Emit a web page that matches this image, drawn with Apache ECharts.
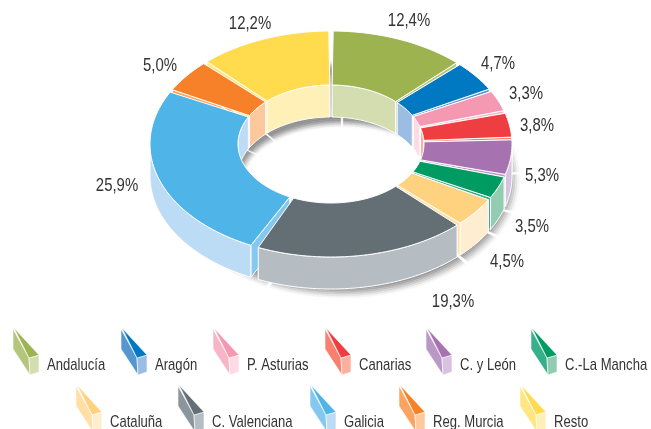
<!DOCTYPE html>
<html>
<head>
<meta charset="utf-8">
<style>html,body{margin:0;padding:0;background:#fff;overflow:hidden}#c{width:651px;height:429px}</style>
<script src="https://cdn.jsdelivr.net/npm/echarts@6/dist/echarts.min.js"></script>
</head>
<body>
<div id="c"></div>
<script>
// ---- data ----
const categories = ['Andalucía','Aragón','P. Asturias','Canarias','C. y León','C.-La Mancha','Cataluña','C. Valenciana','Galicia','Reg. Murcia','Resto'];
const values = [12.4,4.7,3.3,3.8,5.3,3.5,4.5,19.3,25.9,5.0,12.2];
const valueLabels = ['12,4%','4,7%','3,3%','3,8%','5,3%','3,5%','4,5%','19,3%','25,9%','5,0%','12,2%'];

// ---- styles ----
const topColors  = ['#9db34f','#0079c2','#f598b2','#ef3e42','#a673b0','#009b62','#ffd280','#636e75','#4fb4e8','#f68128','#ffdb4d'];
const midColors  = ['#b5c67c','#5396d0','#f9b5c8','#f97f6e','#bb97c6','#35b08a','#ffdfa4','#8a959c','#85c8ef','#fba35f','#ffe680'];
const wallColors = ['#d3ddb0','#9bbce3','#fcdbe4','#fdb0a0','#d6c3e0','#92cdb2','#ffedd0','#b5bdc3','#bcdcf5','#fdc89c','#fff0b8'];

// ---- layout ----
const G = {cx:331, cy:144, rx:181, ry:113, irx:93, iry:59, depth:32, pad:0.7};
const FLOOR = {cx:342, cy:179, rx:180, ry:121, irx:95, iry:51, pad:0.7};
const startPad = {8:1.6};   // the Galicia slice stands a little further from C. Valenciana
const endPad = {7:1.0};
const labelXY = [[409,21],[498,64],[526,94],[537,126],[542,176],[532,227],[507,262],[453,302],[117,186],[160,66],[250,24]];
const legendXY = [[13,328],[121,328],[213,328],[325,328],[426,328],[531,328],[76,385],[178,385],[310,385],[399,385],[520,385]];
const LABEL_FONT = '18px "Liberation Sans",Arial,sans-serif', LABEL_SCALE = 0.83;
const LEGEND_FONT = '17px "Liberation Sans",Arial,sans-serif', LEGEND_SCALE = 0.77;
const TEXT = '#333333';

const total = values.reduce((a,b)=>a+b,0);
const rows = values.map((v,i)=>[v,i]);
function span(i){
  let s=0; for(let k=0;k<i;k++) s+=values[k];
  return [s/total*360, (s+values[i])/total*360];
}
function padded(i){
  const [a,b]=span(i);
  return [a+(startPad[i]||G.pad), b-(endPad[i]||G.pad)];
}
const rad = d=>d*Math.PI/180;
function pt(cx,cy,rx,ry,a){return [cx+rx*Math.sin(rad(a)), cy-ry*Math.cos(rad(a))];}
function arc(cx,cy,rx,ry,a0,a1){
  const n=Math.max(2,Math.ceil(Math.abs(a1-a0)/1.5)), out=[];
  for(let i=0;i<=n;i++) out.push(pt(cx,cy,rx,ry,a0+(a1-a0)*i/n));
  return out;
}
function poly(points,fill,stroke,lw){
  return {type:'polygon',shape:{points},style:{fill,stroke:stroke||null,lineWidth:lw||0}};
}
function wallBand(rx,ry,a0,a1,fill){
  const top=arc(G.cx,G.cy,rx,ry,a0,a1);
  const bot=top.map(p=>[p[0],p[1]+G.depth]).reverse();
  return poly(top.concat(bot),fill,'#fff',1);
}
function overlap(a0,a1,l,h){const s=Math.max(a0,l),e=Math.min(a1,h);return e>s?[s,e]:null;}
function smooth(t){t=Math.max(0,Math.min(1,t));return t*t*(3-2*t);}
function shade(s){ // floor shadow tone across the ring
  const t=s<0.5? smooth(s/0.14) : smooth((1-s)/0.2);
  const c=Math.round(255-t*112);
  return 'rgb('+c+','+c+','+c+')';
}

function floorItem(p,api){
  const i=api.value(1),[a,b]=span(i),a0=a+FLOOR.pad,a1=b-FLOOR.pad,children=[],N=40;
  for(let k=0;k<N;k++){
    const s0=k/N,s1=(k+1)/N;
    const r=(s)=>[FLOOR.irx+(FLOOR.rx-FLOOR.irx)*s,FLOOR.iry+(FLOOR.ry-FLOOR.iry)*s];
    const [x0,y0]=r(s0),[x1,y1]=r(s1);
    const pts=arc(FLOOR.cx,FLOOR.cy,x1,y1,a0,a1).concat(arc(FLOOR.cx,FLOOR.cy,x0,y0,a1,a0));
    const col=shade((s0+s1)/2);
    children.push(poly(pts,col,col,0.4));
  }
  return {type:'group',children};
}
function radialItem(p,api){
  const i=api.value(1),children=[];
  padded(i).forEach(t=>{
    const o=pt(G.cx,G.cy,G.rx,G.ry,t), n=pt(G.cx,G.cy,G.irx,G.iry,t);
    children.push(poly([o,n,[n[0],n[1]+G.depth],[o[0],o[1]+G.depth]],midColors[i],'#fff',1));
  });
  return {type:'group',children};
}
function innerItem(p,api){
  const i=api.value(1),[a0,a1]=padded(i),children=[];
  [[0,90],[270,360]].forEach(r=>{
    const o=overlap(a0,a1,r[0],r[1]);
    if(o) children.push(wallBand(G.irx,G.iry,o[0],o[1],wallColors[i]));
  });
  return {type:'group',children};
}
function outerItem(p,api){
  const i=api.value(1),[a0,a1]=padded(i),o=overlap(a0,a1,90,270);
  return {type:'group',children:o?[wallBand(G.rx,G.ry,o[0],o[1],wallColors[i])]:[]};
}
function topItem(p,api){
  const i=api.value(1),[a0,a1]=padded(i);
  const pts=arc(G.cx,G.cy,G.rx,G.ry,a0,a1).concat(arc(G.cx,G.cy,G.irx,G.iry,a1,a0));
  return poly(pts,topColors[i],'#fff',1);
}
function labelItem(p,api){
  const i=api.value(1);
  return {type:'text',x:labelXY[i][0],y:labelXY[i][1],scaleX:LABEL_SCALE,
    style:{text:valueLabels[i],fill:TEXT,font:LABEL_FONT,textAlign:'center',textVerticalAlign:'middle'}};
}
function legendItem(p,api){
  const i=api.value(1),[x,y]=legendXY[i];
  const P=(dx,dy)=>[x+dx,y+dy];
  return {type:'group',children:[
    poly([P(0,1),P(16,30),P(17,47),P(0,21)],midColors[i],'#fff',0.6),
    poly([P(16,30),P(26,27),P(26,44),P(17,47)],wallColors[i],'#fff',0.6),
    poly([P(1,0),P(26,27),P(16,30)],topColors[i],'#fff',0.6),
    {type:'text',x:x+34,y:y+37,scaleX:LEGEND_SCALE,style:{text:categories[i],fill:TEXT,font:LEGEND_FONT,textAlign:'left',textVerticalAlign:'middle'}}
  ]};
}
const layer=(renderItem,z)=>({type:'custom',coordinateSystem:'none',renderItem,data:rows,z,silent:true,animation:false,clip:false});

const chart=echarts.init(document.getElementById('c'),null,{renderer:'canvas',width:651,height:429});
chart.setOption({
  backgroundColor:'#fff',
  animation:false,
  series:[
    layer(floorItem,1),
    layer(radialItem,2),
    layer(innerItem,3),
    layer(outerItem,4),
    layer(topItem,5),
    layer(labelItem,6),
    layer(legendItem,7)
  ]
});
</script>
</body>
</html>
